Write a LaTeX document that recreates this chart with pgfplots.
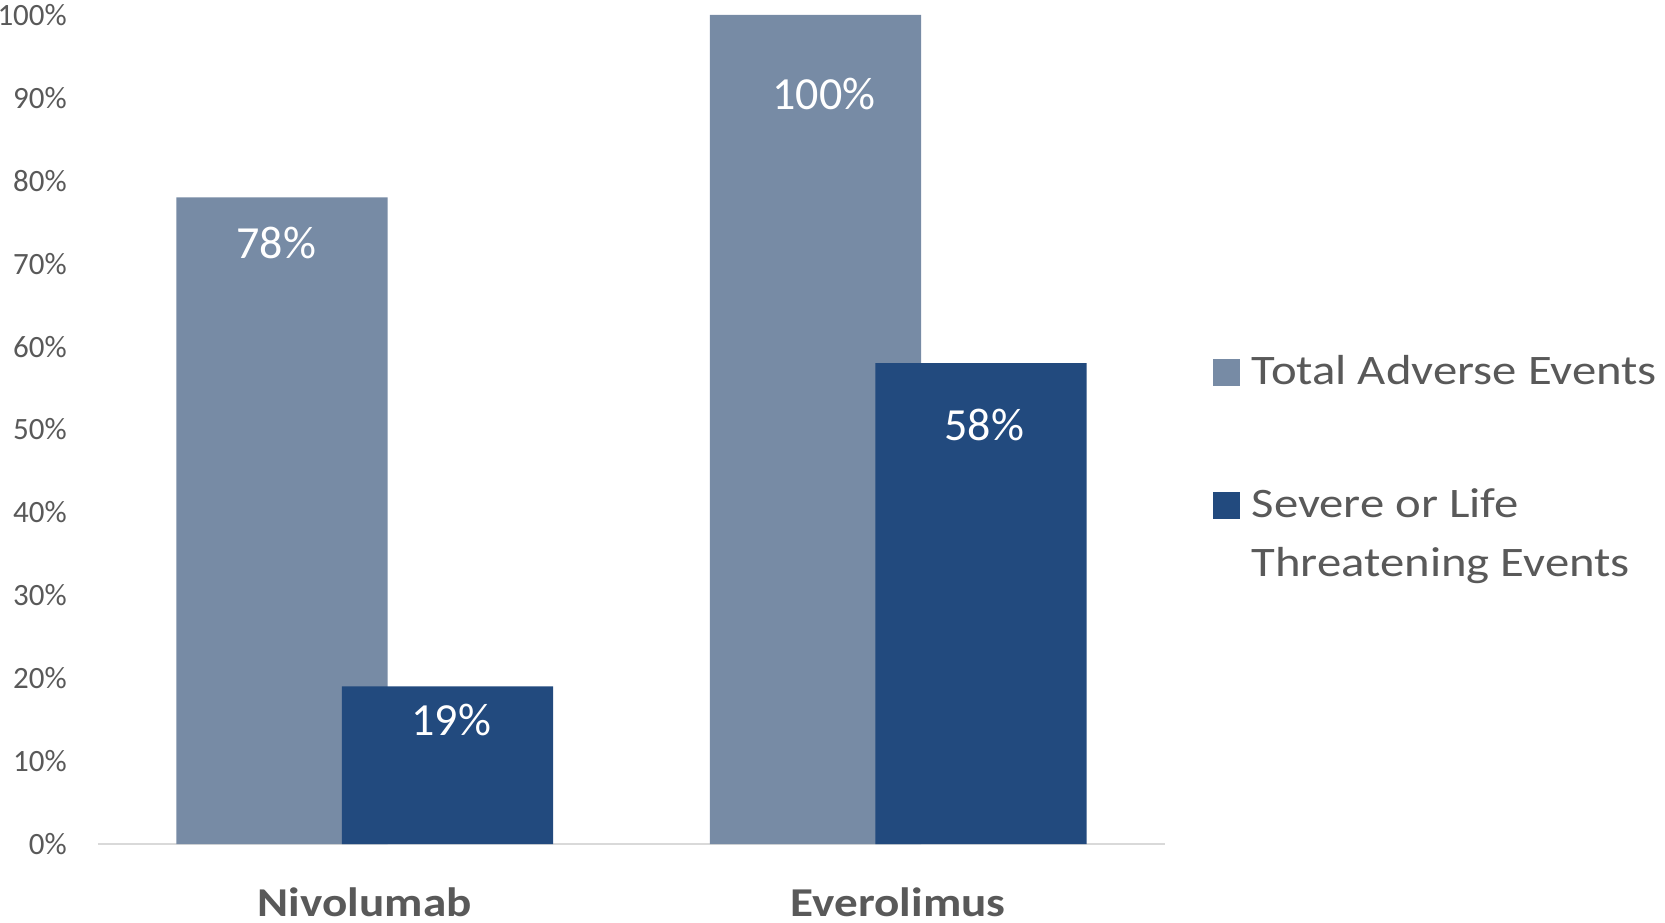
\documentclass[border=0pt]{standalone}
\usepackage{pgfplots}
\pgfplotsset{compat=1.18}
\usepackage{fontspec}
\setmainfont{Carlito}

\definecolor{totalAE}{HTML}{778BA5}
\definecolor{severeAE}{HTML}{224A7E}
\definecolor{textgray}{HTML}{595959}
\definecolor{axisgray}{HTML}{D9D9D9}

\begin{document}
\begin{tikzpicture}
% page frame around the plot area
\path[use as bounding box] (-98bp,-79bp) rectangle (1567bp,844bp);
\begin{axis}[
  at={(0,0)}, anchor=south west,
  scale only axis,
  width=1067bp, height=829bp,
  xmin=-0.5, xmax=1.5,
  ymin=0, ymax=100,
  axis x line*=bottom, axis y line*=left,
  x axis line style={draw=axisgray, line width=2.5bp},
  y axis line style={draw=none},
  major tick length=0pt,
  xtick={0,1},
  xticklabels={Nivolumab, Everolimus},
  xticklabel style={anchor=base, yshift=-72bp, inner sep=0pt,
    font=\fontsize{41bp}{49bp}\selectfont\bfseries\addfontfeatures{FakeStretch=1.15},
    text=textgray},
  ytick={0,10,...,100},
  yticklabel={\pgfmathparse{int(round(\tick))}\pgfmathresult\%},
  yticklabel style={anchor=east, xshift=-31bp, inner sep=0pt,
    font=\fontsize{31bp}{37bp}\selectfont, text=textgray},
  legend cell align=left,
  legend style={at={(1.0447,0.5899)}, anchor=north west,
    draw=none, fill=none, inner sep=0pt, outer sep=0pt,
    row sep=0pt, column sep=12bp,
    cells={anchor=base west},
    font=\fontsize{42bp}{50bp}\selectfont\addfontfeatures{FakeStretch=1.16},
    text=textgray,
    nodes={inner sep=0pt, text height=30bp, text depth=29bp}},
  legend image code/.code={\fill[#1] (0bp,-1bp) rectangle (27bp,26bp);},
]
% Total adverse events
\addplot[ybar, bar width=0.396, bar shift=-0.155, fill=totalAE, draw=none]
  coordinates {(0,78) (1,100)};
\addlegendentry[text depth=103bp]{Total Adverse Events}
% Severe or life-threatening events
\addplot[ybar, bar width=0.396, bar shift=0.155, fill=severeAE, draw=none]
  coordinates {(0,19) (1,58)};
\addlegendentry{Severe or Life}
\addlegendimage{empty legend}
\addlegendentry{Threatening Events}
% value labels inside the bars
\addplot[draw=none, mark=none, forget plot,
  nodes near coords, point meta=explicit symbolic,
  every node near coord/.style={anchor=base, inner sep=0pt,
    font=\fontsize{46bp}{55bp}\selectfont, text=white}]
  coordinates {(-0.166,70.65) [78\%] (0.162,13.03) [19\%]
               (0.861,88.54) [100\%] (1.161,48.65) [58\%]};
\end{axis}
\end{tikzpicture}
\end{document}
